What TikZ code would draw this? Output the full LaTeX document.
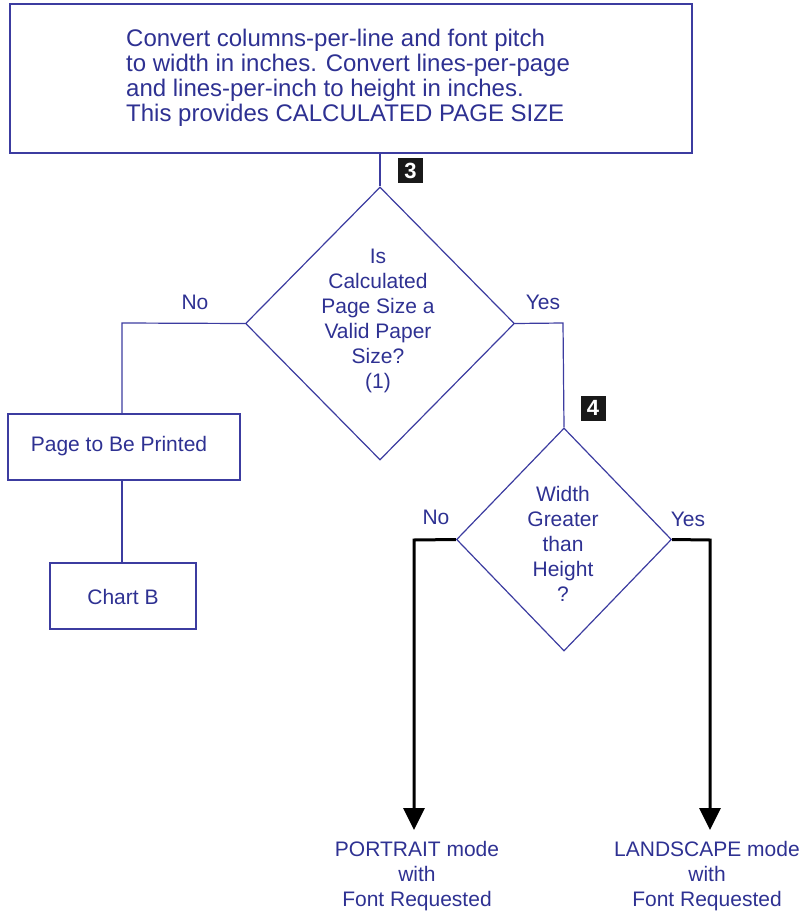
\documentclass[tikz,border=0pt]{standalone}
\usepackage{fontspec}
\setmainfont{Liberation Sans}
\usetikzlibrary{shapes.geometric,arrows.meta}
\definecolor{textblue}{RGB}{46,49,146}
\definecolor{lineblue}{RGB}{60,60,160}
\tikzset{
  txt/.style={text=textblue, font=\fontsize{21}{25}\selectfont, inner sep=0pt, align=center},
  boxnode/.style={draw=lineblue, line width=1.2pt, inner sep=0pt},
  dia/.style={diamond, draw=lineblue, line width=1.2pt, inner sep=0pt},
  bline/.style={draw=lineblue, line width=1.2pt},
  kline/.style={draw=black, line width=3pt, -{Triangle[length=22pt,width=21pt]}},
  marker/.style={fill=black!90, text=white, font=\fontsize{22}{22}\selectfont\bfseries, minimum size=25pt, inner sep=0pt},
}
\begin{document}
\begin{tikzpicture}[x=1pt,y=-1pt]
\useasboundingbox (0,0) rectangle (807,917);
% top box
\node[boxnode, minimum width=682pt, minimum height=149pt] (top) at (351,78.5) {};
\node[txt, font=\fontsize{24}{25}\selectfont, align=left, anchor=west] (toptxt) at (126,78) {Convert columns-per-line and font pitch\\to width in inches. Convert lines-per-page\\and lines-per-inch to height in inches.\\This provides CALCULATED PAGE SIZE};
% diamond 1
\node[dia, minimum width=269pt, minimum height=273pt] (d1) at (380,323.5) {};
\node[txt] (d1t) at (378,321) {Is\\Calculated\\Page Size a\\Valid Paper\\Size?\\(1)};
\node[marker] (m3) at (410.5,171) {3};
\draw[bline] (top.south -| d1.north) -- (d1.north);
% left branch
\node[boxnode, minimum width=232pt, minimum height=66pt] (ptb) at (124,447) {};
\node[txt] (ptbt) at (119,446) {Page to Be Printed};
\node[boxnode, minimum width=146pt, minimum height=66pt] (chb) at (123,596) {};
\node[txt] (chbt) at (123,597) {Chart B};
\coordinate (c1) at (122,323);
\draw[bline] (d1.west) -- (c1) -- (c1 |- ptb.north);
\draw[bline] (122,480) -- (122,563);
\node[txt] (no1) at (195,302) {No};
\node[txt] (yes1) at (543,302) {Yes};
% right branch
\node[dia, minimum width=215pt, minimum height=223pt] (d2) at (564,539.5) {};
\node[txt] (d2t) at (563,544) {Width\\Greater\\than\\Height\\?};
\node[marker] (m4) at (593,408) {4};
\coordinate (c2) at (563,323);
\draw[bline] (d1.east) -- (c2) -- (d2.north);
\node[txt] (no2) at (436,517) {No};
\node[txt] (yes2) at (688,519) {Yes};
% outputs
\coordinate (c3) at (414,540);
\coordinate (c4) at (710,540);
\node[txt] (port) at (417,876) {PORTRAIT mode\\with\\Font Requested};
\node[txt] (land) at (707,876) {LANDSCAPE mode\\with\\Font Requested};
\coordinate (e3) at (414,830);
\coordinate (e4) at (710,830);
\draw[kline] (d2.west) -- (c3) -- (e3);
\draw[kline] (d2.east) -- (c4) -- (e4);
\end{tikzpicture}
\end{document}
